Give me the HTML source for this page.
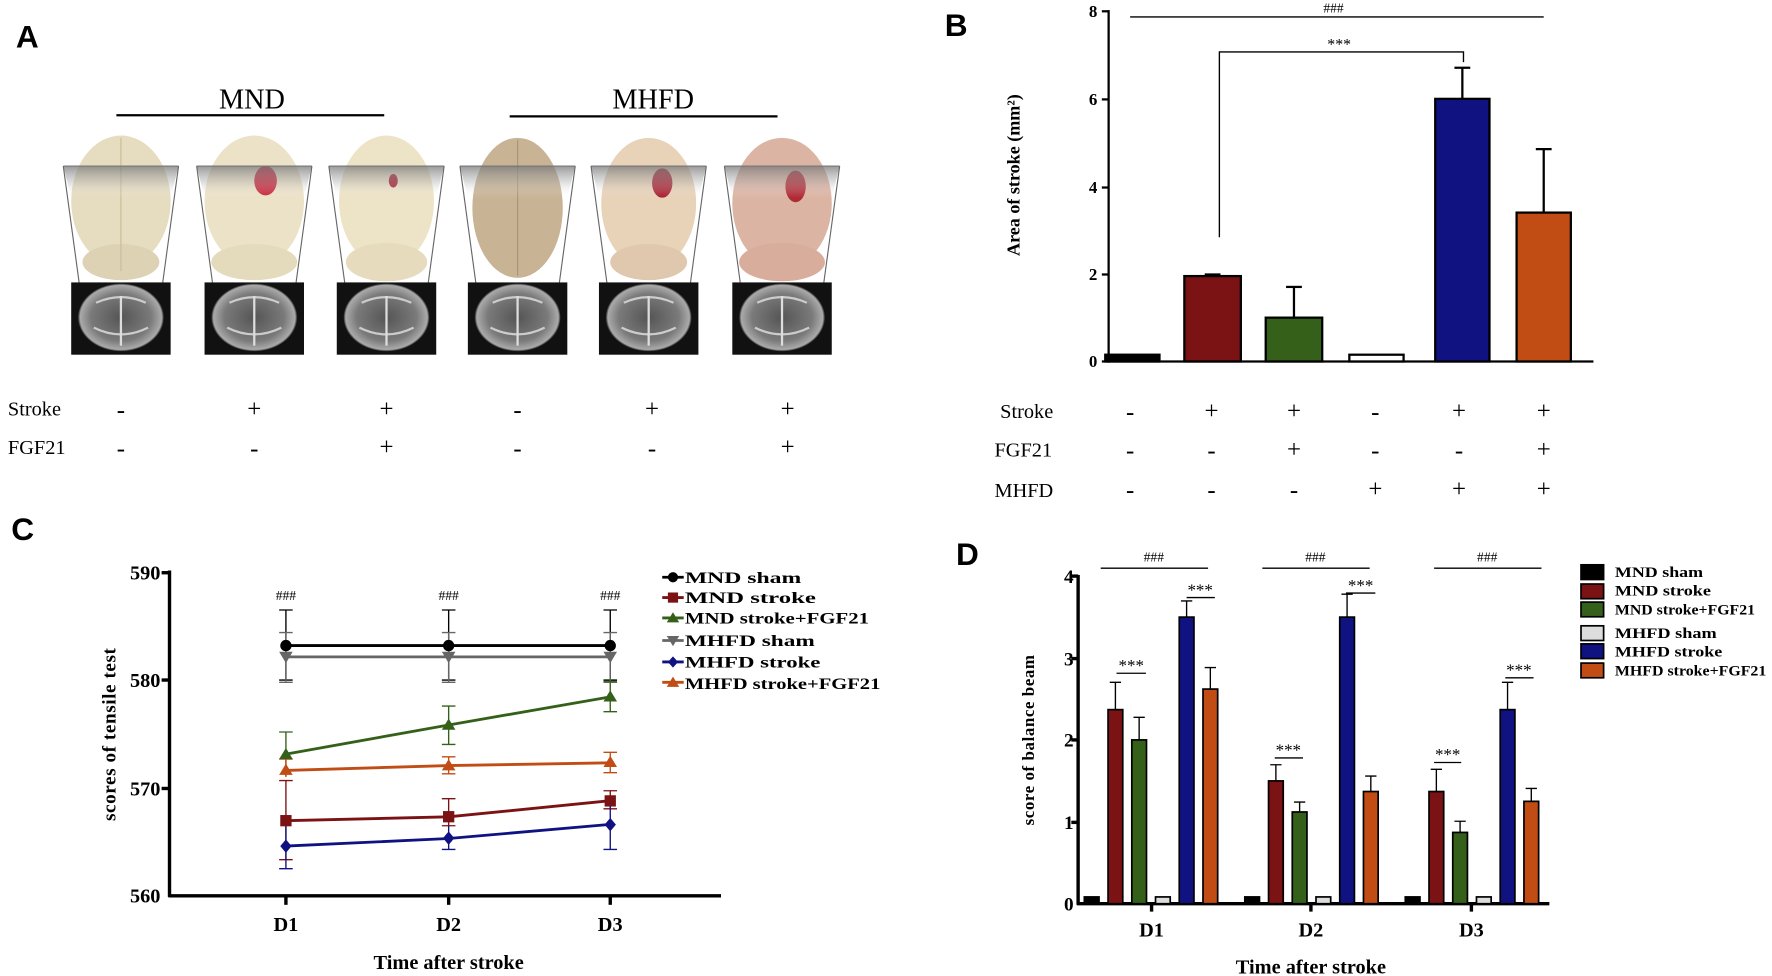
<!DOCTYPE html>
<html><head><meta charset="utf-8"><style>
html,body{margin:0;padding:0;background:#fff;}
svg{display:block;}
text{font-family:"Liberation Serif",serif;}
.ss{font-family:"Liberation Sans",sans-serif;font-weight:bold;}
.b{font-weight:bold;}
</style></head><body>
<svg width="1772" height="976" viewBox="0 0 1568 864" preserveAspectRatio="none" xmlns="http://www.w3.org/2000/svg">
<defs>
<linearGradient id="tg" x1="0" y1="0" x2="0" y2="1"><stop offset="0" stop-color="#777" stop-opacity="0.75"/><stop offset="0.5" stop-color="#aaa" stop-opacity="0.4"/><stop offset="1" stop-color="#fff" stop-opacity="0"/></linearGradient>
<radialGradient id="mri" cx="0.5" cy="0.5" r="0.5"><stop offset="0" stop-color="#555"/><stop offset="0.7" stop-color="#7a7a7a"/><stop offset="0.95" stop-color="#aaa"/><stop offset="1" stop-color="#222"/></radialGradient>
<g id="mriimg">
<rect x="-44" y="0" width="88" height="64" fill="#111"/>
<ellipse cx="0" cy="31" rx="38" ry="30" fill="url(#mri)"/>
<path d="M-22 18 Q0 8 22 18 M-24 40 Q0 52 24 40" stroke="#ccc" stroke-width="2" fill="none"/>
<line x1="0" y1="12" x2="0" y2="56" stroke="#ddd" stroke-width="2"/>
</g>
</defs>

<!-- Panel A -->
<text x="14" y="42" class="ss" font-size="28">A</text>
<text x="223" y="96" font-size="25" text-anchor="middle">MND</text>
<line x1="103" y1="102" x2="340" y2="102" stroke="#000" stroke-width="2"/>
<text x="578" y="96" font-size="25" text-anchor="middle">MHFD</text>
<line x1="451" y1="103" x2="688" y2="103" stroke="#000" stroke-width="2"/>

<g id="col1" transform="translate(107,0)">
<ellipse cx="0" cy="178" rx="44" ry="58" fill="#e6dcc0"/>
<ellipse cx="0" cy="232" rx="34" ry="16" fill="#ddd2b4"/>
<line x1="0" y1="122" x2="0" y2="240" stroke="#c9bc98" stroke-width="1"/>
<polygon points="-51,147 51,147 44,175 -44,175" fill="url(#tg)"/>
<line x1="-51" y1="147" x2="51" y2="147" stroke="#777"/>
<line x1="-51" y1="147" x2="-37" y2="250" stroke="#666"/>
<line x1="51" y1="147" x2="37" y2="250" stroke="#666"/>
<use href="#mriimg" y="250"/>
</g>
<g transform="translate(225,0)">
<ellipse cx="0" cy="178" rx="44" ry="58" fill="#ece2c8"/>
<ellipse cx="0" cy="232" rx="38" ry="16" fill="#e4dabc"/>
<ellipse cx="10" cy="160" rx="10" ry="13" fill="#c8243a"/>
<polygon points="-51,147 51,147 44,175 -44,175" fill="url(#tg)"/>
<line x1="-51" y1="147" x2="51" y2="147" stroke="#777"/>
<line x1="-51" y1="147" x2="-37" y2="250" stroke="#666"/>
<line x1="51" y1="147" x2="37" y2="250" stroke="#666"/>
<use href="#mriimg" y="250"/>
</g>
<g transform="translate(342,0)">
<ellipse cx="0" cy="178" rx="42" ry="58" fill="#ede3c6"/>
<ellipse cx="0" cy="232" rx="36" ry="17" fill="#e6dcbd"/>
<ellipse cx="6" cy="160" rx="4" ry="6" fill="#a8182e"/>
<polygon points="-51,147 51,147 44,175 -44,175" fill="url(#tg)"/>
<line x1="-51" y1="147" x2="51" y2="147" stroke="#777"/>
<line x1="-51" y1="147" x2="-37" y2="250" stroke="#666"/>
<line x1="51" y1="147" x2="37" y2="250" stroke="#666"/>
<use href="#mriimg" y="250"/>
</g>
<g transform="translate(458,0)">
<ellipse cx="0" cy="184" rx="40" ry="62" fill="#c8b395"/>
<line x1="0" y1="124" x2="0" y2="244" stroke="#a8957a" stroke-width="1"/>
<polygon points="-51,147 51,147 44,175 -44,175" fill="url(#tg)"/>
<line x1="-51" y1="147" x2="51" y2="147" stroke="#777"/>
<line x1="-51" y1="147" x2="-37" y2="250" stroke="#666"/>
<line x1="51" y1="147" x2="37" y2="250" stroke="#666"/>
<use href="#mriimg" y="250"/>
</g>
<g transform="translate(574,0)">
<ellipse cx="0" cy="180" rx="42" ry="58" fill="#e8d2b8"/>
<ellipse cx="0" cy="232" rx="34" ry="16" fill="#e0c8ae"/>
<ellipse cx="12" cy="162" rx="9" ry="13" fill="#a82030"/>
<polygon points="-51,147 51,147 44,175 -44,175" fill="url(#tg)"/>
<line x1="-51" y1="147" x2="51" y2="147" stroke="#777"/>
<line x1="-51" y1="147" x2="-37" y2="250" stroke="#666"/>
<line x1="51" y1="147" x2="37" y2="250" stroke="#666"/>
<use href="#mriimg" y="250"/>
</g>
<g transform="translate(692,0)">
<ellipse cx="0" cy="180" rx="44" ry="58" fill="#dcb4a4"/>
<ellipse cx="0" cy="232" rx="38" ry="17" fill="#d8ad9c"/>
<ellipse cx="12" cy="165" rx="9" ry="14" fill="#b02a35"/>
<polygon points="-51,147 51,147 44,175 -44,175" fill="url(#tg)"/>
<line x1="-51" y1="147" x2="51" y2="147" stroke="#777"/>
<line x1="-51" y1="147" x2="-37" y2="250" stroke="#666"/>
<line x1="51" y1="147" x2="37" y2="250" stroke="#666"/>
<use href="#mriimg" y="250"/>
</g>

<g font-size="18">
<text x="7" y="368">Stroke</text>
<text x="7" y="402">FGF21</text>
</g>
<g font-size="22" text-anchor="middle">
<text x="107" y="370">-</text><text x="225" y="369">+</text><text x="342" y="369">+</text><text x="458" y="370">-</text><text x="577" y="369">+</text><text x="697" y="369">+</text>
<text x="107" y="404">-</text><text x="225" y="404">-</text><text x="342" y="403">+</text><text x="458" y="404">-</text><text x="577" y="404">-</text><text x="697" y="403">+</text>
</g>

<!-- Panel B -->
<text x="836" y="32" class="ss" font-size="28">B</text>
<g stroke="#000" stroke-width="2">
<line x1="981" y1="9" x2="981" y2="321"/>
<line x1="980" y1="320" x2="1410" y2="320"/>
<line x1="975" y1="10" x2="981" y2="10"/><line x1="975" y1="88" x2="981" y2="88"/><line x1="975" y1="166" x2="981" y2="166"/><line x1="975" y1="243" x2="981" y2="243"/><line x1="975" y1="320" x2="981" y2="320"/>
</g>
<g font-size="15" text-anchor="end" class="b">
<text x="971" y="15">8</text><text x="971" y="93">6</text><text x="971" y="171">4</text><text x="971" y="248">2</text><text x="971" y="325">0</text>
</g>
<text transform="translate(902,155) rotate(-90)" font-size="16" class="b" text-anchor="middle">Area of stroke (mm²)</text>
<g stroke="#000" stroke-width="2">
<rect x="978" y="314" width="48" height="6" fill="#000"/>
<line x1="1073" y1="244" x2="1073" y2="243"/><line x1="1066" y1="243" x2="1080" y2="243"/>
<rect x="1048" y="244.4" width="50" height="75.6" fill="#7b1214"/>
<line x1="1145" y1="281" x2="1145" y2="254"/><line x1="1138" y1="254" x2="1152" y2="254"/>
<rect x="1120" y="281.2" width="50" height="38.8" fill="#35601a"/>
<rect x="1194" y="314" width="48" height="6" fill="#fff"/>
<line x1="1294" y1="88" x2="1294" y2="60"/><line x1="1287" y1="60" x2="1301" y2="60"/>
<rect x="1270" y="87.5" width="48" height="232.5" fill="#101282"/>
<line x1="1366" y1="188" x2="1366" y2="132"/><line x1="1359" y1="132" x2="1373" y2="132"/>
<rect x="1342" y="188.2" width="48" height="131.8" fill="#c14d15"/>
</g>
<line x1="1000" y1="15" x2="1366" y2="15" stroke="#000" stroke-width="1.2"/>
<text x="1180" y="11" font-size="12" text-anchor="middle">###</text>
<polyline points="1079,210 1079,46 1295,46 1295,55" fill="none" stroke="#000" stroke-width="1.2"/>
<text x="1185" y="44" font-size="14" text-anchor="middle">***</text>
<g font-size="18">
<text x="885" y="370">Stroke</text>
<text x="880" y="404">FGF21</text>
<text x="880" y="440">MHFD</text>
</g>
<g font-size="22" text-anchor="middle">
<text x="1000" y="372">-</text><text x="1072" y="371">+</text><text x="1145" y="371">+</text><text x="1217" y="372">-</text><text x="1291" y="371">+</text><text x="1366" y="371">+</text>
<text x="1000" y="406">-</text><text x="1072" y="406">-</text><text x="1145" y="405">+</text><text x="1217" y="406">-</text><text x="1291" y="406">-</text><text x="1366" y="405">+</text>
<text x="1000" y="441">-</text><text x="1072" y="441">-</text><text x="1145" y="441">-</text><text x="1217" y="440">+</text><text x="1291" y="440">+</text><text x="1366" y="440">+</text>
</g>

<!-- Panel C -->
<text x="10" y="478" class="ss" font-size="28">C</text>
<g stroke="#000" stroke-width="3">
<line x1="150" y1="505" x2="150" y2="794"/>
<line x1="149" y1="793" x2="638" y2="793"/>
<line x1="143" y1="507" x2="150" y2="507"/><line x1="143" y1="602" x2="150" y2="602"/><line x1="143" y1="698" x2="150" y2="698"/>
<line x1="253" y1="793" x2="253" y2="801"/><line x1="397" y1="793" x2="397" y2="801"/><line x1="540" y1="793" x2="540" y2="801"/>
</g>
<g font-size="18" class="b" text-anchor="end">
<text x="142" y="513">590</text><text x="142" y="608">580</text><text x="142" y="704">570</text><text x="142" y="799">560</text>
</g>
<g font-size="18" class="b" text-anchor="middle">
<text x="253" y="824">D1</text><text x="397" y="824">D2</text><text x="540" y="824">D3</text>
<text x="397" y="858">Time after stroke</text>
</g>
<text transform="translate(102,650) rotate(-90)" font-size="17" class="b" text-anchor="middle" letter-spacing="0.5">scores of tensile test</text>
<g font-size="12" text-anchor="middle">
<text x="253" y="531">###</text><text x="397" y="531">###</text><text x="540" y="531">###</text>
</g>
<!-- error bars -->
<g stroke-width="1.2" fill="none">
<g stroke="#000"><path d="M253 540V602M247 540H259M247 602H259M397 540V602M391 540H403M391 602H403M540 540V602M534 540H546M534 602H546"/></g>
<g stroke="#666"><path d="M253 560V604M247 560H259M247 604H259M397 560V604M391 560H403M391 604H403M540 560V604M534 560H546M534 604H546"/></g>
<g stroke="#35601a"><path d="M253 648V687M247 648H259M397 625V659M391 625H403M391 659H403M540 603V630M534 603H546M534 630H546"/></g>
<g stroke="#c14d15"><path d="M253 672V688M247 672H259M397 670V685M391 670H403M391 685H403M540 666V684M534 666H546M534 684H546"/></g>
<g stroke="#7b1214"><path d="M253 691V761M247 691H259M247 761H259M397 707V731M391 707H403M391 731H403M540 700V716M534 700H546M534 716H546"/></g>
<g stroke="#101282"><path d="M253 730V769M247 769H259M397 731V752M391 752H403M540 711V752M534 752H546"/></g>
</g>
<!-- lines -->
<g fill="none" stroke-width="2.5">
<polyline points="253,571.5 397,571.5 540,571.5" stroke="#000"/>
<polyline points="253,581.5 397,581.5 540,581.5" stroke="#666"/>
<polyline points="253,667.6 397,641.8 540,616.9" stroke="#35601a"/>
<polyline points="253,682 397,677.7 540,675.3" stroke="#c14d15"/>
<polyline points="253,726.5 397,723.1 540,708.8" stroke="#7b1214"/>
<polyline points="253,749 397,742.3 540,729.8" stroke="#101282"/>
</g>
<!-- markers -->
<g fill="#000"><circle cx="253" cy="571.5" r="5"/><circle cx="397" cy="571.5" r="5"/><circle cx="540" cy="571.5" r="5"/></g>
<g fill="#666"><path d="M247 577h12l-6 10z"/><path d="M391 577h12l-6 10z"/><path d="M534 577h12l-6 10z"/></g>
<g fill="#35601a"><path d="M247 672h12l-6-10z"/><path d="M391 646h12l-6-10z"/><path d="M534 621h12l-6-10z"/></g>
<g fill="#c14d15"><path d="M247 686h12l-6-10z"/><path d="M391 682h12l-6-10z"/><path d="M534 679h12l-6-10z"/></g>
<g fill="#7b1214"><rect x="248" y="721.5" width="10" height="10"/><rect x="392" y="718" width="10" height="10"/><rect x="535" y="704" width="10" height="10"/></g>
<g fill="#101282"><path d="M253 743l5 6-5 6-5-6z"/><path d="M397 736l5 6-5 6-5-6z"/><path d="M540 724l5 6-5 6-5-6z"/></g>
<!-- legend C -->
<g stroke-width="2.5">
<line x1="586" y1="511" x2="605" y2="511" stroke="#000"/><circle cx="595.5" cy="511" r="4.5" fill="#000"/>
<line x1="586" y1="529" x2="605" y2="529" stroke="#7b1214"/><rect x="591" y="524.5" width="9" height="9" fill="#7b1214" stroke="none"/>
<line x1="586" y1="547" x2="605" y2="547" stroke="#35601a"/><path d="M590 551h11l-5.5-9z" fill="#35601a" stroke="none"/>
<line x1="586" y1="567" x2="605" y2="567" stroke="#666"/><path d="M590 563h11l-5.5 9z" fill="#666" stroke="none"/>
<line x1="586" y1="586" x2="605" y2="586" stroke="#101282"/><path d="M595.5 581l4.5 5-4.5 5-4.5-5z" fill="#101282" stroke="none"/>
<line x1="586" y1="604" x2="605" y2="604" stroke="#c14d15"/><path d="M590 608h11l-5.5-9z" fill="#c14d15" stroke="none"/>
</g>
<g font-size="14" class="b">
<text x="606" y="516" textLength="103" lengthAdjust="spacingAndGlyphs">MND sham</text>
<text x="606" y="534" textLength="116" lengthAdjust="spacingAndGlyphs">MND stroke</text>
<text x="606" y="552" textLength="163" lengthAdjust="spacingAndGlyphs">MND stroke+FGF21</text>
<text x="606" y="572" textLength="115" lengthAdjust="spacingAndGlyphs">MHFD sham</text>
<text x="606" y="591" textLength="120" lengthAdjust="spacingAndGlyphs">MHFD stroke</text>
<text x="606" y="610" textLength="173" lengthAdjust="spacingAndGlyphs">MHFD stroke+FGF21</text>
</g>

<!-- Panel D -->
<text x="846" y="500" class="ss" font-size="28">D</text>
<g stroke="#000" stroke-width="3">
<line x1="954" y1="509" x2="954" y2="801"/>
<line x1="953" y1="800" x2="1371" y2="800"/>
<line x1="948" y1="510" x2="954" y2="510"/><line x1="948" y1="583" x2="954" y2="583"/><line x1="948" y1="655" x2="954" y2="655"/><line x1="948" y1="728" x2="954" y2="728"/>
<line x1="1019" y1="800" x2="1019" y2="807"/><line x1="1160" y1="800" x2="1160" y2="807"/><line x1="1302" y1="800" x2="1302" y2="807"/>
</g>
<g font-size="17" class="b" text-anchor="end">
<text x="950" y="516">4</text><text x="950" y="589">3</text><text x="950" y="661">2</text><text x="950" y="734">1</text><text x="950" y="806">0</text>
</g>
<g font-size="18" class="b" text-anchor="middle">
<text x="1019" y="829">D1</text><text x="1160" y="829">D2</text><text x="1302" y="829">D3</text>
<text x="1160" y="862">Time after stroke</text>
</g>
<text transform="translate(915,655) rotate(-90)" font-size="15" class="b" text-anchor="middle" letter-spacing="0.5">score of balance beam</text>
<g stroke="#000" stroke-width="1.2">
<path d="M987 628V604M982 604H992M1008 655V635M1003 635H1013M1050 546V532M1045 532H1055M1071 610V591M1066 591H1076"/>
<path d="M1129 691V677M1124 677H1134M1150 719V710M1145 710H1155M1192 546V526M1187 526H1197M1213 701V687M1208 687H1218"/>
<path d="M1271 701V681M1266 681H1276M1292 737V727M1287 727H1297M1334 628V604M1329 604H1339M1355 709V698M1350 698H1360"/>
</g>
<g stroke="#000" stroke-width="1.5">
<rect x="959.5" y="794" width="13" height="6" fill="#000"/>
<rect x="980.5" y="628.2" width="13" height="171.8" fill="#7b1214"/>
<rect x="1001.5" y="655" width="13" height="145" fill="#35601a"/>
<rect x="1022.5" y="794" width="13" height="6" fill="#ddd"/>
<rect x="1043.5" y="546.3" width="13" height="253.7" fill="#101282"/>
<rect x="1064.5" y="610" width="13" height="190" fill="#c14d15"/>
<rect x="1101.5" y="794" width="13" height="6" fill="#000"/>
<rect x="1122.5" y="691.3" width="13" height="108.7" fill="#7b1214"/>
<rect x="1143.5" y="718.8" width="13" height="81.2" fill="#35601a"/>
<rect x="1164.5" y="794" width="13" height="6" fill="#ddd"/>
<rect x="1185.5" y="546.3" width="13" height="253.7" fill="#101282"/>
<rect x="1206.5" y="700.7" width="13" height="99.3" fill="#c14d15"/>
<rect x="1243.5" y="794" width="13" height="6" fill="#000"/>
<rect x="1264.5" y="700.7" width="13" height="99.3" fill="#7b1214"/>
<rect x="1285.5" y="736.9" width="13" height="63.1" fill="#35601a"/>
<rect x="1306.5" y="794" width="13" height="6" fill="#ddd"/>
<rect x="1327.5" y="628.2" width="13" height="171.8" fill="#101282"/>
<rect x="1348.5" y="709.4" width="13" height="90.6" fill="#c14d15"/>
</g>
<g stroke="#000" stroke-width="1.2">
<line x1="974" y1="503" x2="1069" y2="503"/><line x1="1117" y1="503" x2="1212" y2="503"/><line x1="1269" y1="503" x2="1364" y2="503"/>
<line x1="988" y1="596" x2="1014" y2="596"/><line x1="1050" y1="529" x2="1075" y2="529"/>
<line x1="1128" y1="671" x2="1153" y2="671"/><line x1="1191" y1="525" x2="1217" y2="525"/>
<line x1="1269" y1="675" x2="1293" y2="675"/><line x1="1332" y1="600" x2="1357" y2="600"/>
</g>
<g font-size="12" text-anchor="middle">
<text x="1021" y="497">###</text><text x="1164" y="497">###</text><text x="1316" y="497">###</text>
</g>
<g font-size="15" text-anchor="middle">
<text x="1001" y="594">***</text><text x="1062" y="527">***</text>
<text x="1140" y="669">***</text><text x="1204" y="523">***</text>
<text x="1281" y="673">***</text><text x="1344" y="598">***</text>
</g>
<g stroke="#000" stroke-width="1.5">
<rect x="1399" y="500" width="20" height="13" fill="#000"/>
<rect x="1399" y="517" width="20" height="13" fill="#7b1214"/>
<rect x="1399" y="533" width="20" height="13" fill="#35601a"/>
<rect x="1399" y="554" width="20" height="13" fill="#ddd"/>
<rect x="1399" y="570" width="20" height="13" fill="#101282"/>
<rect x="1399" y="587" width="20" height="13" fill="#c14d15"/>
</g>
<g font-size="13" class="b">
<text x="1429" y="511" textLength="78" lengthAdjust="spacingAndGlyphs">MND sham</text>
<text x="1429" y="527" textLength="85" lengthAdjust="spacingAndGlyphs">MND stroke</text>
<text x="1429" y="544" textLength="124" lengthAdjust="spacingAndGlyphs">MND stroke+FGF21</text>
<text x="1429" y="565" textLength="90" lengthAdjust="spacingAndGlyphs">MHFD sham</text>
<text x="1429" y="581" textLength="95" lengthAdjust="spacingAndGlyphs">MHFD stroke</text>
<text x="1429" y="598" textLength="134" lengthAdjust="spacingAndGlyphs">MHFD stroke+FGF21</text>
</g>
</svg>
</body></html>
